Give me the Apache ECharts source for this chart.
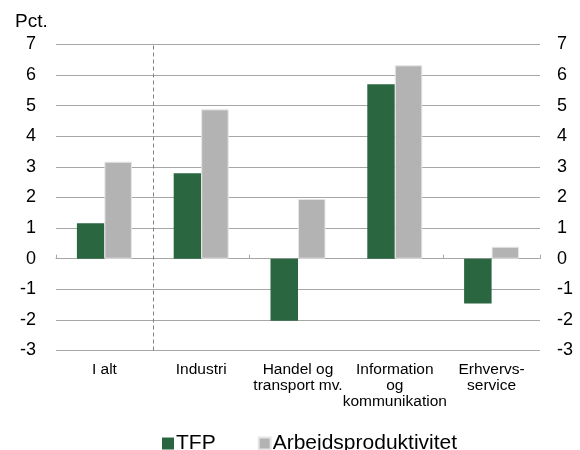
<!DOCTYPE html>
<html><head><meta charset="utf-8">
<script src="https://cdn.jsdelivr.net/npm/echarts@6/dist/echarts.min.js"></script>
<style>html,body{margin:0;padding:0;background:#fff}#c{width:580px;height:450px}</style>
</head><body><div id="c"></div>
<script>
var categories = ['I alt', 'Industri', 'Handel og\ntransport mv.', 'Information\nog\nkommunikation', 'Erhvervs-\nservice'];
var tfp = [1.16, 2.79, -2.03, 5.70, -1.46];
var arbejd = [3.17, 4.88, 1.95, 6.32, 0.39];
var yTicks = {min: -3, max: 7, interval: 1};
var dividerAt = [1];

var chart = echarts.init(document.getElementById('c'));
var font = 'Liberation Sans, Arial, sans-serif';
var gridColor = '#a6a6a6';
chart.setOption({
  animation: false,
  title: {text: 'Pct.', left: 10, top: 7, textStyle: {fontFamily: font, fontSize: 19, fontWeight: 'normal', color: '#000'}},
  grid: {left: 56, right: 40, top: 44.5, bottom: 99.5},
  legend: {
    left: 157, top: 428, itemWidth: 12, itemHeight: 12, itemGap: 42, icon: 'rect',
    textStyle: {fontFamily: font, fontSize: 21, color: '#000', padding: [0,0,0,-3]},
    data: ['TFP', 'Arbejdsproduktivitet']
  },
  xAxis: [
    {type: 'category', data: categories, position: 'bottom', axisLine: {show: false, onZero: false},
     axisTick: {show: false}, axisLabel: {interval: 0, margin: 11, fontFamily: font, fontSize: 15.5, lineHeight: 16, color: '#000'}},
    {type: 'category', data: categories, axisLine: {onZero: true, lineStyle: {color: gridColor}},
     axisTick: {show: true, length: 4, lineStyle: {color: gridColor}}, axisLabel: {show: false}},
    {type: 'value', min: 0, max: categories.length, show: false}
  ],
  yAxis: [
    {type: 'value', min: yTicks.min, max: yTicks.max, interval: yTicks.interval, position: 'left',
     axisLine: {show: false}, axisTick: {show: false},
     axisLabel: {margin: 20, fontFamily: font, fontSize: 18, color: '#000'},
     splitLine: {lineStyle: {color: gridColor}}},
    {type: 'value', min: yTicks.min, max: yTicks.max, interval: yTicks.interval, position: 'right',
     axisLine: {show: false}, axisTick: {show: false},
     axisLabel: {margin: 17, fontFamily: font, fontSize: 18, color: '#000'},
     splitLine: {show: false}}
  ],
  series: [
    {name: 'TFP', type: 'bar', data: tfp, xAxisIndex: 0, yAxisIndex: 0, barWidth: 27.5, barGap: '0%',
     itemStyle: {color: '#2a6640'}},
    {name: 'Arbejdsproduktivitet', type: 'bar', data: arbejd, xAxisIndex: 0, yAxisIndex: 0, barWidth: 27.5, barGap: '0%',
     itemStyle: {color: '#b3b3b3', borderColor: '#e6e6e6', borderWidth: 1}},
    {name: 'divider', type: 'line', data: [], xAxisIndex: 2, yAxisIndex: 0,
     markLine: {silent: true, symbol: 'none', label: {show: false},
       lineStyle: {type: [4, 3], color: '#808080', width: 1},
       data: dividerAt.map(function(v){return {xAxis: v};})}}
  ]
});
</script></body></html>
